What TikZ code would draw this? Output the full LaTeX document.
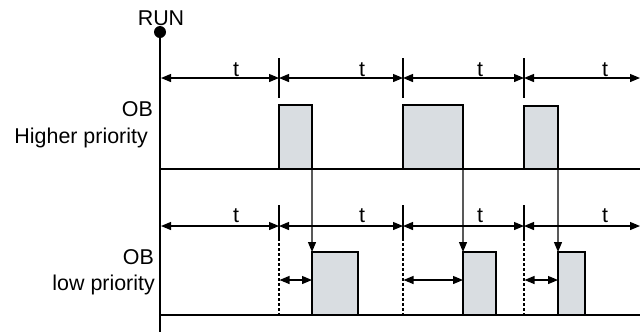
\documentclass[tikz,border=0pt]{standalone}
\usepackage{fontspec}
\setmainfont{Liberation Sans}
\usetikzlibrary{arrows.meta}
\definecolor{pulsefill}{RGB}{217,221,225}
\begin{document}
\begin{tikzpicture}[x=1bp,y=-1bp,
  thickline/.style={line width=2.2bp},
  thinline/.style={line width=1.2bp},
  dashline/.style={line width=1.2bp, dash pattern=on 3bp off 2bp},
  pulse/.style={draw, line width=2.2bp, fill=pulsefill, inner sep=0pt, outer sep=0pt, anchor=south west},
  dimline/.style={line width=1.2bp, {Triangle[length=10bp,width=8bp]}-{Triangle[length=10bp,width=8bp]}},
  drop/.style={line width=1.2bp, -{Triangle[length=10bp,width=8bp]}},
  lbl/.style={font=\fontsize{21.5}{25}\selectfont, inner sep=0pt, anchor=base east},
  tlbl/.style={font=\fontsize{21.5}{25}\selectfont, inner sep=0pt, anchor=base},
]
\useasboundingbox (0,0) rectangle (640,332);

% axis and RUN
\node[circle, fill=black, inner sep=0pt, minimum size=12bp] (run) at (160,32) {};
\node[tlbl] (runlbl) at (161,25) {RUN};
\coordinate (axb) at (160,332);

% baselines
\coordinate (hb0) at (160,169); \coordinate (hb1) at (640,169);
\coordinate (lb0) at (160,315); \coordinate (lb1) at (640,315);
\draw[thickline] (hb0) -- (hb1);
\draw[thickline] (lb0) -- (lb1);
\draw[thickline] (run.center) -- (axb);

% pulses
\node[pulse, minimum width=33bp, minimum height=64bp] (h1) at (279,169) {};
\node[pulse, minimum width=60bp, minimum height=64bp] (h2) at (403,169) {};
\node[pulse, minimum width=34bp, minimum height=63bp] (h3) at (524,169) {};
\node[pulse, minimum width=46bp, minimum height=63bp] (l1) at (312,315) {};
\node[pulse, minimum width=33bp, minimum height=63bp] (l2) at (463,315) {};
\node[pulse, minimum width=27bp, minimum height=63bp] (l3) at (558,315) {};

% top dimension line
\coordinate (ta0) at (161,78);
\coordinate (ta1) at (279,78);
\coordinate (ta2) at (403,78);
\coordinate (ta3) at (524,78);
\coordinate (ta4) at (640,78);
\draw[dimline] (ta0) -- (ta1);
\draw[dimline] (ta1) -- (ta2);
\draw[dimline] (ta2) -- (ta3);
\draw[dimline] (ta3) -- (ta4);
\foreach \x [count=\i] in {279,403,524}{
  \coordinate (tt\i a) at (\x,58);
  \coordinate (tt\i b) at (\x,98);
  \draw[thinline] (tt\i a) -- (tt\i b);
}

% lower dimension line
\coordinate (la0) at (161,226);
\coordinate (la1) at (279,226);
\coordinate (la2) at (403,226);
\coordinate (la3) at (524,226);
\coordinate (la4) at (640,226);
\draw[dimline] (la0) -- (la1);
\draw[dimline] (la1) -- (la2);
\draw[dimline] (la2) -- (la3);
\draw[dimline] (la3) -- (la4);
\foreach \x [count=\i] in {279,403,524}{
  \coordinate (lt\i a) at (\x,205);
  \coordinate (lt\i b) at (\x,238);
  \coordinate (lt\i c) at (\x,315);
  \draw[thinline] (lt\i a) -- (lt\i b);
  \draw[dashline] (lt\i b) -- (lt\i c);
}

% delay arrows
\coordinate (d1) at (279.5,280);
\coordinate (d2) at (403.5,280);
\coordinate (d3) at (524.5,280);
\draw[dimline] (d1) -- (d1 -| l1.west);
\draw[dimline] (d2) -- (d2 -| l2.west);
\draw[dimline] (d3) -- (d3 -| l3.west);

% drop arrows
\draw[drop] (h1.south east) -- (l1.north west);
\draw[drop] (h2.south east) -- (l2.north west);
\draw[drop] (h3.south east) -- (l3.north west);

% t labels
\node[tlbl] (t1) at (236,76) {t};
\node[tlbl] (t2) at (362,76) {t};
\node[tlbl] (t3) at (480,76) {t};
\node[tlbl] (t4) at (605,76) {t};
\node[tlbl] (t5) at (236,222.5) {t};
\node[tlbl] (t6) at (362,222.5) {t};
\node[tlbl] (t7) at (480,222.5) {t};
\node[tlbl] (t8) at (605,222.5) {t};

% side labels
\node[lbl] (ob1) at (153,116) {OB};
\node[lbl] (hp) at (148,143) {Higher priority};
\node[lbl] (ob2) at (154,264) {OB};
\node[lbl] (lp) at (155,290) {low priority};
\end{tikzpicture}
\end{document}
